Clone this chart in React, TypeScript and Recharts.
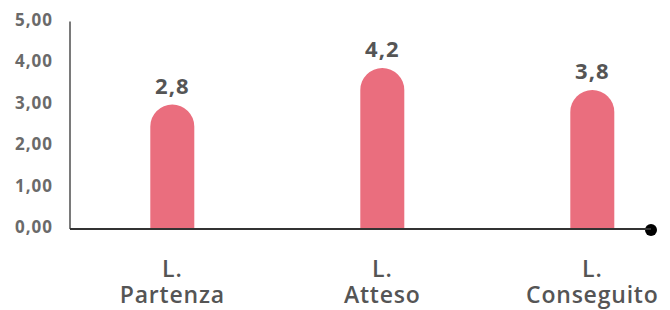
import React from 'react';
import { BarChart, Bar, XAxis, YAxis, LabelList, usePlotArea } from 'recharts';

const categories = ['L. Partenza', 'L. Atteso', 'L. Conseguito'];
const barValues = [3.0, 3.88, 3.35];
const valueLabels = ['2,8', '4,2', '3,8'];
const yTicks = [0, 1, 2, 3, 4, 5];

const data = categories.map((c, i) => ({ name: c, value: barValues[i], label: valueLabels[i] }));

const FONT = '"Open Sans", sans-serif';

const YTick = (props: any) => {
  const { x, y, payload } = props;
  return (
    <text x={x - 11} y={y + 4} textAnchor="end" fill="#6a6a6a" fontFamily={FONT} fontWeight={700} fontSize={17} letterSpacing={1}>
      {payload.value.toFixed(2).replace('.', ',')}
    </text>
  );
};

const XTick = (props: any) => {
  const { x, y, payload } = props;
  const parts = String(payload.value).split(' ');
  return (
    <text textAnchor="middle" fill="#555" fontFamily={FONT} fontWeight={600} fontSize={23} letterSpacing={0.8}>
      <tspan x={x} y={y + 40}>{parts[0]}</tspan>
      <tspan x={x} y={y + 66}>{parts.slice(1).join(' ')}</tspan>
    </text>
  );
};

const ValueLabel = (props: any) => {
  const { x, y, width, value } = props;
  return (
    <text x={x + width / 2} y={y - 11} textAnchor="middle" fill="#555" fontFamily={FONT} fontWeight={700} fontSize={22} letterSpacing={1}>
      {value}
    </text>
  );
};

const AxisEndDot = () => {
  const area = usePlotArea();
  if (!area) return null;
  return <circle cx={area.x + area.width} cy={area.y + area.height + 1} r={6} fill="#000" />;
};

export default function App() {
  return (
    <BarChart
      width={662}
      height={302}
      data={data}
      margin={{ top: 13.5, right: 19, bottom: 21, left: 0 }}
    >
      <YAxis
        width={62}
        domain={[0, 5]}
        ticks={yTicks}
        interval={0}
        tickLine={false}
        tick={<YTick />}
        tickMargin={0}
        axisLine={{ stroke: '#7a7a7a', strokeWidth: 2 }}
      />
      <XAxis
        dataKey="name"
        height={60}
        padding={{ left: -2.7, right: -46.3 }}
        tickLine={false}
        interval={0}
        tick={<XTick />}
        axisLine={{ stroke: '#333', strokeWidth: 2 }}
      />
      <Bar dataKey="value" fill="#EA6E7E" barSize={44} radius={[22, 22, 0, 0]} isAnimationActive={false}>
        <LabelList dataKey="label" content={<ValueLabel />} />
      </Bar>
      <AxisEndDot />
    </BarChart>
  );
}
